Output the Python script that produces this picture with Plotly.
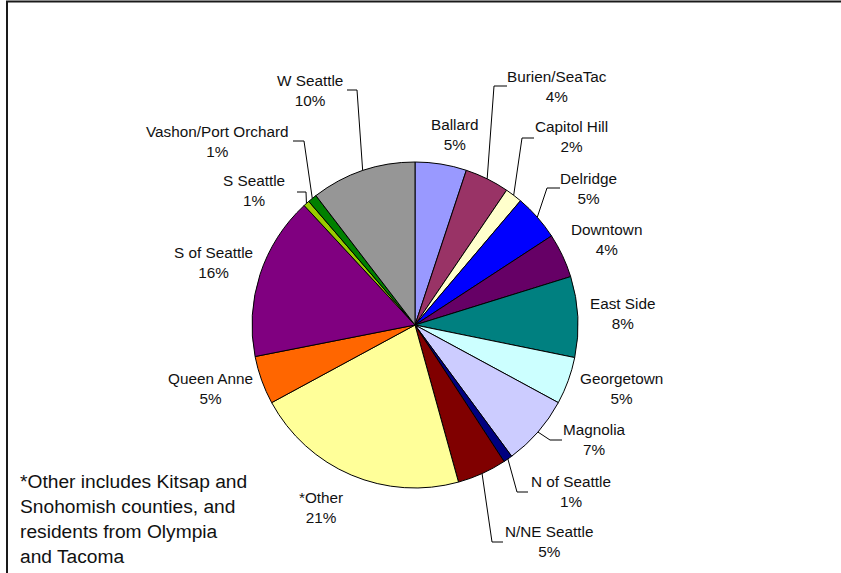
import math
import plotly.graph_objects as go

# ---- data ----
areas = ["Ballard", "Burien/SeaTac", "Capitol Hill", "Delridge", "Downtown",
         "East Side", "Georgetown", "Magnolia", "N of Seattle", "N/NE Seattle",
         "*Other", "Queen Anne", "S of Seattle", "S Seattle",
         "Vashon/Port Orchard", "W Seattle"]
shares = [5.1, 4.4, 1.7, 4.6, 4.4, 8.0, 4.7, 7.0, 0.9, 4.9,
          21.4, 4.8, 16.2, 0.6, 0.9, 10.4]
colors = ["#9999FF", "#993366", "#FFFFCC", "#0000FF", "#660066",
          "#008080", "#CCFFFF", "#CCCCFF", "#000080", "#800000",
          "#FFFF99", "#FF6600", "#800080", "#99CC00",
          "#008000", "#969696"]
footnote = "*Other includes Kitsap and<br>Snohomish counties, and<br>residents from Olympia<br>and Tacoma"

# ---- layout (pixels in an 841x573 page) ----
W, H = 841, 573
CX, CY, R = 415, 325, 163
label_pos = {
    "Ballard": (455, 134), "Burien/SeaTac": (557, 86), "Capitol Hill": (571, 137),
    "Delridge": (588, 188), "Downtown": (606, 239), "East Side": (622, 313),
    "Georgetown": (621, 388), "Magnolia": (594, 439), "N of Seattle": (571, 491),
    "N/NE Seattle": (549, 541), "*Other": (321, 507), "Queen Anne": (210, 388),
    "S of Seattle": (213, 262), "S Seattle": (254, 191),
    "Vashon/Port Orchard": (218, 141), "W Seattle": (310, 90),
}
# label side x, elbow x, y
leaders = {
    "W Seattle": (347, 357, 90), "Vashon/Port Orchard": (293, 304, 141),
    "S Seattle": (297, 306, 192), "Burien/SeaTac": (507, 494, 86),
    "Capitol Hill": (534, 522, 138), "Delridge": (560, 547, 188),
    "Magnolia": (562, 550, 440), "N of Seattle": (528, 517, 492),
    "N/NE Seattle": (503, 492, 542),
}

def px(x):
    return x / W

def py(y):
    return 1 - y / H

fig = go.Figure(go.Pie(
    labels=areas, values=shares, sort=False, direction="clockwise", rotation=0,
    marker=dict(colors=colors, line=dict(color="black", width=1)),
    textinfo="none", hoverinfo="label+percent", showlegend=False,
    domain=dict(x=[px(CX - R), px(CX + R)], y=[py(CY + R), py(CY - R)]),
))

total = sum(shares)
annotations = []
shapes = []
cum = 0.0
for name, v in zip(areas, shares):
    mid = (cum + v / 2) / total * 2 * math.pi
    cum += v
    pct = round(v / total * 100)
    lx, ly = label_pos[name]
    annotations.append(dict(
        x=px(lx), y=py(ly), xref="paper", yref="paper", showarrow=False,
        text=f"{name}<br>{pct}%", xanchor="center", yanchor="middle",
        font=dict(family="Liberation Sans, Arial", size=15.3, color="#111111"),
        align="center"))
    if name in leaders:
        sx, ex, yy = leaders[name]
        edx = CX + R * math.sin(mid)
        edy = CY - R * math.cos(mid)
        path = f"M {px(sx)} {py(yy)} L {px(ex)} {py(yy)} L {px(edx)} {py(edy)}"
        shapes.append(dict(type="path", xref="paper", yref="paper", path=path,
                           line=dict(color="black", width=1)))

annotations.append(dict(
    x=px(18), y=py(519), xref="paper", yref="paper", showarrow=False,
    text=footnote, xanchor="left", yanchor="middle", align="left",
    font=dict(family="Liberation Sans, Arial", size=19.2, color="#111111")))

shapes.append(dict(type="rect", xref="paper", yref="paper",
                   x0=px(7), x1=1.2, y0=-0.2, y1=py(1.5),
                   line=dict(color="#1a1a1a", width=2), fillcolor="rgba(0,0,0,0)"))

fig.update_layout(
    width=W, height=H, margin=dict(l=0, r=0, t=0, b=0),
    paper_bgcolor="white", plot_bgcolor="white",
    annotations=annotations, shapes=shapes,
)

fig.write_html("out.html", config={"displayModeBar": False},
               post_script="document.body.style.margin='0';document.body.style.overflow='hidden';")
